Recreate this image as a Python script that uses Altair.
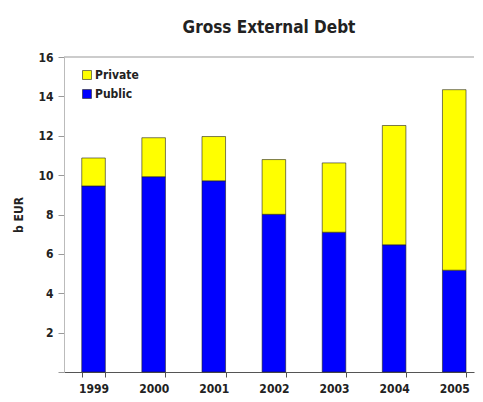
import altair as alt
import pandas as pd

years = ["1999", "2000", "2001", "2002", "2003", "2004", "2005"]
public = [9.45, 9.92, 9.71, 8.01, 7.10, 6.46, 5.17]
private = [1.42, 1.98, 2.25, 2.78, 3.52, 6.06, 9.17]
series = ["Private", "Public"]
colors = ["#FFFF00", "#0000FF"]
yticks = [0, 2, 4, 6, 8, 10, 12, 14, 16]

rows = []
for y, pu, pr in zip(years, public, private):
    rows.append({"year": y, "series": "Public", "value": pu, "order": 0})
    rows.append({"year": y, "series": "Private", "value": pr, "order": 1})
df = pd.DataFrame(rows)

FONT = "DejaVu Sans Condensed, Liberation Sans Narrow, Arial Narrow, sans-serif"

bars = alt.Chart(df).mark_bar(stroke="#222222", strokeWidth=0.6).encode(
    x=alt.X("year:N", sort=years, title=None,
            scale=alt.Scale(paddingInner=0.608, paddingOuter=0.214, align=0.69),
            axis=alt.Axis(labelAngle=0, tickBand="extent", domainColor="#555555",
                          tickColor="#555555", tickSize=5, labelPadding=6,
                          labelFont=FONT, labelFontSize=12, labelFontWeight="bold",
                          labelColor="#222222")),
    y=alt.Y("value:Q", stack="zero", title="b EUR",
            scale=alt.Scale(domain=[0, 16], nice=False),
            axis=alt.Axis(values=yticks, grid=False, labelOverlap=False,
                          labelExpr="datum.value == 0 ? '' : datum.label",
                          domainColor="#BBBBBB", tickColor="#999999", tickSize=6,
                          labelPadding=5, labelFont=FONT, labelFontSize=12,
                          labelFontWeight="bold", labelColor="#222222",
                          titleFont=FONT, titleFontSize=12, titleFontWeight="bold",
                          titleColor="#222222", titlePadding=12)),
    color=alt.Color("series:N", sort=series,
                    scale=alt.Scale(domain=series, range=colors),
                    legend=alt.Legend(title=None, orient="none", legendX=17, legendY=12,
                                      symbolType="square", symbolSize=80,
                                      symbolStrokeColor="#222222", symbolStrokeWidth=0.6,
                                      labelFont=FONT, labelFontSize=12,
                                      labelFontWeight="bold", labelColor="#222222",
                                      rowPadding=7, labelOffset=2)),
    order=alt.Order("order:Q"),
)

toprule = alt.Chart(pd.DataFrame({"v": [16]})).mark_rule(color="#BBBBBB", strokeWidth=1.5).encode(
    y=alt.Y("v:Q", axis=alt.Axis(values=yticks, labelOverlap=False))
)

chart = alt.layer(bars, toprule).properties(
    width=467, height=386,
    autosize=alt.AutoSizeParams(type="fit", contains="padding"),
    padding={"left": 4, "right": 0, "top": 11, "bottom": 0},
    title=alt.TitleParams("Gross External Debt", font=FONT, fontSize=17,
                          fontWeight="bold", color="#222222", offset=14),
).configure_view(stroke=None)

chart.save("out.html", embed_options={"renderer": "svg", "actions": False})
